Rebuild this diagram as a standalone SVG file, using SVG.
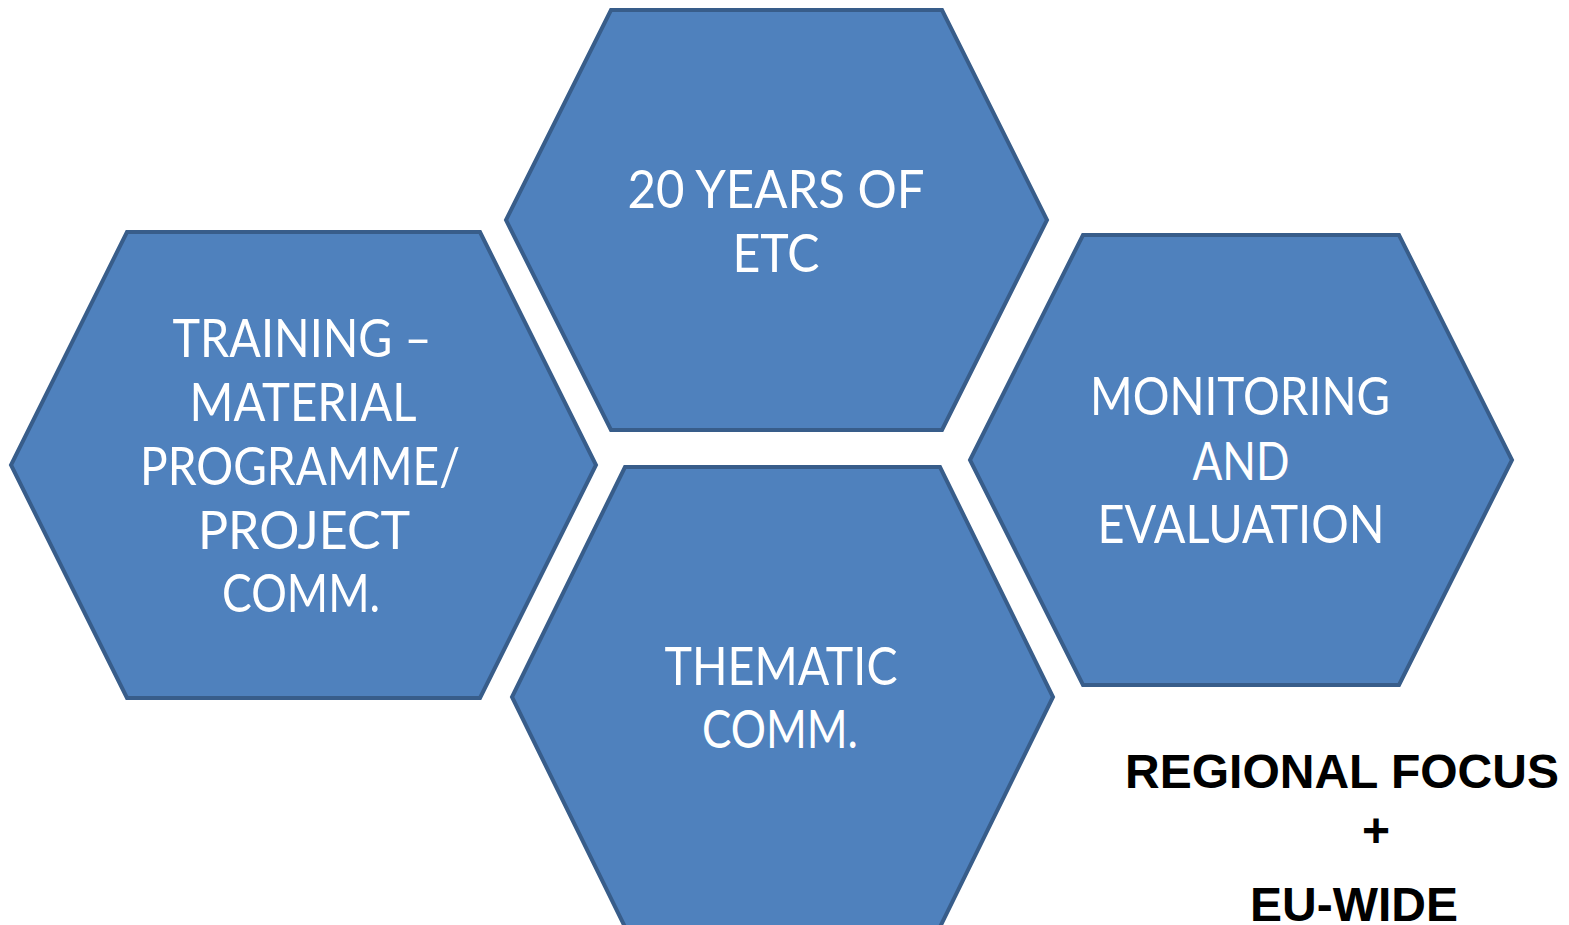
<svg xmlns="http://www.w3.org/2000/svg" width="1569" height="925" viewBox="0 0 1569 925">
<style>
.hex{fill:#4F81BD;stroke:#385D8A;stroke-width:4;stroke-linejoin:miter}
.t{fill:#fff;font-family:Lato,"Open Sans",sans-serif;font-size:52px;text-anchor:middle}
.b{fill:#000;font-family:"Liberation Sans",Arial,sans-serif;font-weight:bold;font-size:48px;text-anchor:middle}
</style>
<rect width="1569" height="925" fill="#fff"/>
<g id="hex-top">
<polygon class="hex" points="611,10 942,10 1047,220 942,430 611,430 506,220"/>
<text class="t" x="776" y="208" textLength="297" lengthAdjust="spacingAndGlyphs">20 YEARS OF</text>
<text class="t" x="776" y="272" textLength="87" lengthAdjust="spacingAndGlyphs">ETC</text>
</g>
<g id="hex-left">
<polygon class="hex" points="127,232 480,232 596,465 480,698 127,698 11,465"/>
<text class="t" x="302" y="357" textLength="259" lengthAdjust="spacingAndGlyphs">TRAINING –</text>
<text class="t" x="303" y="421" textLength="227" lengthAdjust="spacingAndGlyphs">MATERIAL</text>
<text class="t" x="300" y="485" textLength="320" lengthAdjust="spacingAndGlyphs">PROGRAMME/</text>
<text class="t" x="304" y="549" textLength="212" lengthAdjust="spacingAndGlyphs">PROJECT</text>
<text class="t" x="301" y="612" textLength="158" lengthAdjust="spacingAndGlyphs">COMM.</text>
</g>
<g id="hex-right">
<polygon class="hex" points="1083,235 1399,235 1512,460 1399,685 1083,685 970,460"/>
<text class="t" x="1240" y="415" textLength="300" lengthAdjust="spacingAndGlyphs">MONITORING</text>
<text class="t" x="1241" y="480" textLength="97" lengthAdjust="spacingAndGlyphs">AND</text>
<text class="t" x="1241" y="543" textLength="287" lengthAdjust="spacingAndGlyphs">EVALUATION</text>
</g>
<g id="hex-bottom">
<polygon class="hex" points="625,467 940,467 1053,697 940,927 625,927 512,697"/>
<text class="t" x="781" y="685" textLength="233" lengthAdjust="spacingAndGlyphs">THEMATIC</text>
<text class="t" x="780" y="748" textLength="156" lengthAdjust="spacingAndGlyphs">COMM.</text>
</g>
<g id="label">
<text class="b" x="1342" y="788">REGIONAL FOCUS</text>
<text class="b" x="1376" y="847">+</text>
<text class="b" x="1354" y="921">EU-WIDE</text>
</g>
<g id="connectors"/>
</svg>
